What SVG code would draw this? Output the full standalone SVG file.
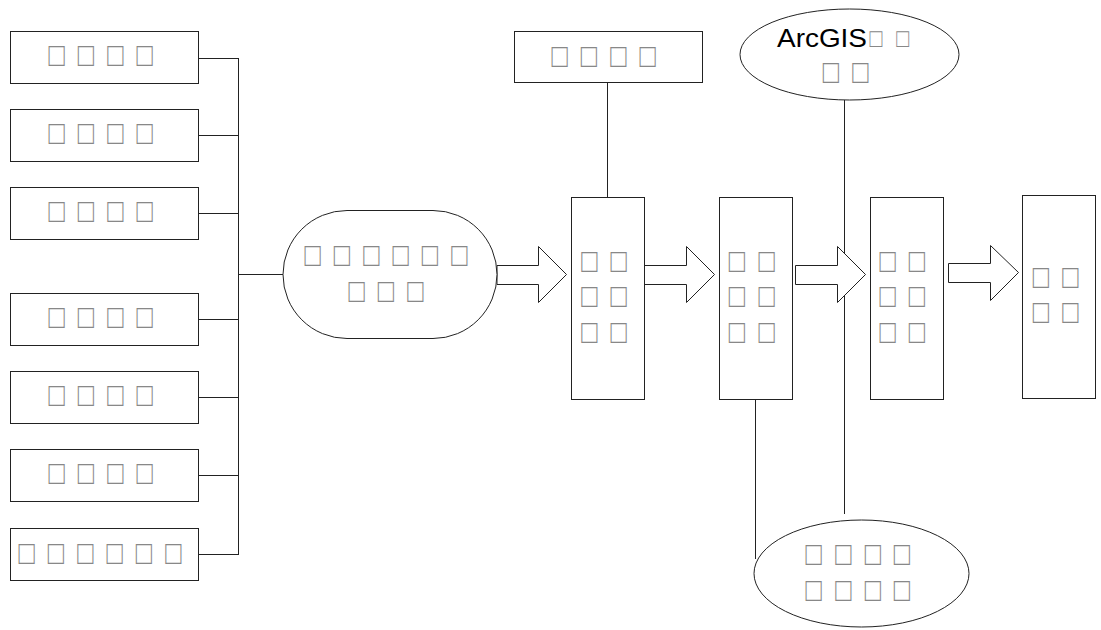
<svg xmlns="http://www.w3.org/2000/svg" width="1101" height="630" viewBox="0 0 1101 630">
<style>
.box{fill:#fff;stroke:#222;stroke-width:1}
.ln{fill:none;stroke:#222;stroke-width:1}
.ar{fill:#fff;stroke:#222;stroke-width:1;stroke-linejoin:miter}
.t{font-family:"Liberation Sans",Arial,sans-serif;font-size:33px;fill:#888}
.ts{font-family:"Liberation Sans",Arial,sans-serif;font-size:26px;fill:#888}
.en{font-family:"Liberation Sans",Arial,sans-serif;font-size:26px;fill:#000}
</style>
<rect width="1101" height="630" fill="#fff"/>
<g id="connectors">
<path class="ln" d="M198 58.5H238.5M198 135.5H238.5M198 213.5H238.5M198 319.5H238.5M198 397.5H238.5M198 475.5H238.5M198 554.5H238.5M238.5 58V555M238.5 274.5H283"/>
<path class="ln" d="M607.5 83V197"/>
<path class="ln" d="M844.5 100V514"/>
<path class="ln" d="M755.5 400V559"/>
<path class="ar" d="M497 265.5H538.5V246.5L566.5 274.5L538.5 302.5V284.5H497Z"/>
<path class="ar" d="M644 265.5H686.5V246.5L714.5 274.5L686.5 302.5V284.5H644Z"/>
<path class="ar" d="M795.5 265.5H837.5V246.5L865.5 274.5L837.5 302.5V284.5H795.5Z"/>
<path class="ar" d="M948.5 263.5H990.5V245.5L1018.5 272.5L990.5 300.5V282.5H948.5Z"/>
</g>
<g id="n1"><rect class="box" x="10.5" y="31.5" width="188" height="52"/><text class="t" transform="scale(0.81,1)" x="59.84 96.01 132.31 168.48" y="66.5">□□□□</text></g>
<g id="n2"><rect class="box" x="10.5" y="109.5" width="188" height="52"/><text class="t" transform="scale(0.81,1)" x="59.84 96.01 132.31 168.48" y="144.5">□□□□</text></g>
<g id="n3"><rect class="box" x="10.5" y="187.5" width="188" height="52"/><text class="t" transform="scale(0.81,1)" x="59.84 96.01 132.31 168.48" y="222.5">□□□□</text></g>
<g id="n4"><rect class="box" x="10.5" y="293.5" width="188" height="52"/><text class="t" transform="scale(0.81,1)" x="59.84 96.01 132.31 168.48" y="328.5">□□□□</text></g>
<g id="n5"><rect class="box" x="10.5" y="371.5" width="188" height="52"/><text class="t" transform="scale(0.81,1)" x="59.84 96.01 132.31 168.48" y="406.5">□□□□</text></g>
<g id="n6"><rect class="box" x="10.5" y="449.5" width="188" height="52"/><text class="t" transform="scale(0.81,1)" x="59.84 96.01 132.31 168.48" y="484.5">□□□□</text></g>
<g id="n7"><rect class="box" x="10.5" y="528.5" width="188" height="52"/><text class="t" transform="scale(0.81,1)" x="22.8 58.97 95.27 131.44 167.62 203.91" y="564">□□□□□□</text></g>
<g id="hub"><rect class="box" x="283" y="210.5" width="214" height="128" rx="64" ry="64"/><text class="t" transform="scale(0.81,1)" x="375.89 412.06 448.36 484.53 520.7 557" y="265.8">□□□□□□</text><text class="t" transform="scale(0.81,1)" x="430.21 466.38 502.68" y="301.8">□□□</text></g>
<g id="top"><rect class="box" x="514.5" y="31.5" width="188" height="51"/><text class="t" transform="scale(0.81,1)" x="680.83 717 753.3 789.47" y="66.7">□□□□</text></g>
<g id="s1"><rect class="box" x="571.5" y="197.5" width="73" height="202"/><text class="t" transform="scale(0.81,1)" x="717.5 753.67" y="272.5">□□</text><text class="t" transform="scale(0.81,1)" x="717.5 753.67" y="307.5">□□</text><text class="t" transform="scale(0.81,1)" x="717.5 753.67" y="343.5">□□</text></g>
<g id="s2"><rect class="box" x="719.5" y="197.5" width="73" height="202"/><text class="t" transform="scale(0.81,1)" x="899.72 936.38" y="272.5">□□</text><text class="t" transform="scale(0.81,1)" x="899.72 936.38" y="307.5">□□</text><text class="t" transform="scale(0.81,1)" x="899.72 936.38" y="343.5">□□</text></g>
<g id="s3"><rect class="box" x="870.5" y="197.5" width="73" height="202"/><text class="t" transform="scale(0.81,1)" x="1085.77 1121.94" y="272.5">□□</text><text class="t" transform="scale(0.81,1)" x="1085.77 1121.94" y="307.5">□□</text><text class="t" transform="scale(0.81,1)" x="1085.77 1121.94" y="343.5">□□</text></g>
<g id="s4"><rect class="box" x="1022.5" y="195.5" width="73" height="203"/><text class="t" transform="scale(0.81,1)" x="1275.02 1311.32" y="288.5">□□</text><text class="t" transform="scale(0.81,1)" x="1275.02 1311.32" y="323.5">□□</text></g>
<g id="arcgis"><ellipse class="box" cx="849.5" cy="54.5" rx="109.5" ry="45.5"/><text class="en" x="777" y="47" textLength="90" lengthAdjust="spacingAndGlyphs">ArcGIS</text><text class="ts" transform="scale(0.81,1)" x="1073.56 1106.5" y="47.4">□□</text><text class="t" transform="scale(0.81,1)" x="1015.79 1052.09" y="82.8">□□</text></g>
<g id="db"><ellipse class="box" cx="861.5" cy="573.5" rx="107.5" ry="53.5"/><text class="t" transform="scale(0.81,1)" x="994.41 1031.07 1067.62 1103.42" y="565.5">□□□□</text><text class="t" transform="scale(0.81,1)" x="994.41 1031.07 1067.62 1103.42" y="601">□□□□</text></g>
</svg>
